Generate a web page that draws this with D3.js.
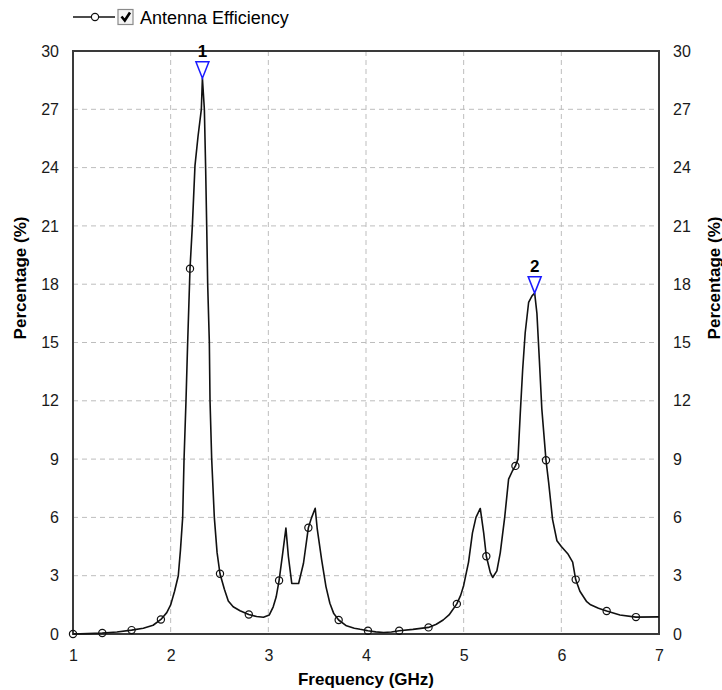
<!DOCTYPE html>
<html>
<head>
<meta charset="utf-8">
<script src="https://cdn.jsdelivr.net/npm/d3@7"></script>
<style>
  body { margin: 0; background: #fff; }
  svg { display: block; font-family: "Liberation Sans", Arial, sans-serif; }
</style>
</head>
<body>
<div id="chart"></div>
<script>
// efficiency curve (GHz, %)
const freqGHz = [1.00, 1.15, 1.30, 1.45, 1.60, 1.72, 1.82, 1.90, 1.96, 2.00, 2.04, 2.078, 2.10, 2.123, 2.137, 2.157, 2.174,
  2.198, 2.222, 2.249, 2.28, 2.314, 2.325, 2.345, 2.358, 2.369, 2.379, 2.396, 2.403, 2.42, 2.447, 2.475,
  2.505, 2.55, 2.59, 2.64, 2.71, 2.80, 2.88, 2.95, 3.01, 3.05, 3.08, 3.11, 3.147, 3.18, 3.205, 3.24, 3.31,
  3.36, 3.41, 3.44, 3.48, 3.50, 3.546, 3.59, 3.63, 3.67, 3.72, 3.80, 3.88, 3.94, 4.02, 4.10, 4.18, 4.26, 4.34, 4.48, 4.64,
  4.72, 4.79, 4.85, 4.93, 4.97, 5.00, 5.05, 5.09, 5.126, 5.17, 5.205, 5.232, 5.273, 5.297, 5.34, 5.375, 5.42,
  5.46, 5.50, 5.53, 5.556, 5.58, 5.604, 5.63, 5.665, 5.70, 5.727, 5.75, 5.775, 5.80, 5.843, 5.87, 5.91,
  5.955, 6.00, 6.07, 6.116, 6.147, 6.19, 6.26, 6.30, 6.38, 6.464, 6.60, 6.764, 7.00];
const efficiency = [0.00, 0.02, 0.05, 0.10, 0.20, 0.30, 0.45, 0.75, 1.1, 1.5, 2.2, 3.0, 4.3, 6.0, 9.0, 12.0, 15.0,
  18.8, 21.0, 24.1, 25.6, 27.0, 28.6, 27.0, 24.0, 21.0, 18.0, 15.0, 12.0, 9.0, 6.0, 4.2,
  3.1, 2.3, 1.7, 1.4, 1.2, 1.0, 0.9, 0.86, 0.98, 1.4, 1.9, 2.75, 4.15, 5.45, 4.0, 2.6, 2.6,
  3.64, 5.47, 5.95, 6.47, 5.44, 3.81, 2.44, 1.58, 1.05, 0.72, 0.42, 0.3, 0.24, 0.17, 0.11, 0.08, 0.1, 0.17, 0.24, 0.34,
  0.5, 0.72, 0.98, 1.55, 2.0, 2.5, 3.7, 5.2, 6.0, 6.46, 5.2, 4.0, 3.16, 2.91, 3.25, 4.19, 6.0,
  7.97, 8.4, 8.65, 9.0, 11.4, 13.6, 15.5, 17.06, 17.4, 17.54, 16.5, 14.1, 11.6, 8.94, 7.8, 5.9,
  4.8, 4.5, 4.1, 3.7, 2.8, 2.2, 1.66, 1.5, 1.32, 1.18, 0.98, 0.87, 0.88];

// circle markers on the trace
const markerFreq = [1.00, 1.30, 1.60, 1.90, 2.198, 2.505, 2.80, 3.11, 3.41, 3.72,
  4.02, 4.34, 4.64, 4.93, 5.232, 5.53, 5.843, 6.147, 6.464, 6.764];
const markerEff = [0.00, 0.05, 0.20, 0.75, 18.8, 3.1, 1.0, 2.75, 5.47, 0.72,
  0.17, 0.17, 0.34, 1.55, 4.0, 8.65, 8.94, 2.8, 1.18, 0.87];

// numbered peak markers
const peakLabels = ["1", "2"];
const peakFreq = [2.325, 5.727];
const peakEff = [28.6, 17.54];

const xTicks = [1, 2, 3, 4, 5, 6, 7];
const yTicks = [0, 3, 6, 9, 12, 15, 18, 21, 24, 27, 30];

const width = 722, height = 690;
const mLeft = 73, mRight = 659, mTop = 51, mBottom = 634;

const x = d3.scaleLinear().domain([1, 7]).range([mLeft, mRight]);
const y = d3.scaleLinear().domain([0, 30]).range([mBottom, mTop]);

const svg = d3.select("#chart").append("svg")
    .attr("width", width)
    .attr("height", height);

// grid
svg.append("g")
  .selectAll("line")
  .data(xTicks.slice(1, -1))
  .join("line")
    .attr("x1", d => x(d)).attr("x2", d => x(d))
    .attr("y1", mTop).attr("y2", mBottom)
    .attr("stroke", "#bdbdbd")
    .attr("stroke-dasharray", "5,4");

svg.append("g")
  .selectAll("line")
  .data(yTicks.slice(1, -1))
  .join("line")
    .attr("x1", mLeft).attr("x2", mRight)
    .attr("y1", d => y(d)).attr("y2", d => y(d))
    .attr("stroke", "#bdbdbd")
    .attr("stroke-dasharray", "5,4");

// axes (labels only, the frame is drawn as a rect)
const tickFont = g => g
    .call(g => g.select(".domain").remove())
    .call(g => g.selectAll(".tick line").remove())
    .call(g => g.selectAll("text")
        .attr("fill", "#1a1a1a")
        .attr("font-size", 16)
        .attr("font-family", "Liberation Sans, Arial, sans-serif"));

svg.append("g")
    .attr("transform", `translate(${mLeft},0)`)
    .call(d3.axisLeft(y).tickValues(yTicks).tickSize(0).tickPadding(14))
    .call(tickFont);

svg.append("g")
    .attr("transform", `translate(${mRight},0)`)
    .call(d3.axisRight(y).tickValues(yTicks).tickSize(0).tickPadding(14))
    .call(tickFont);

svg.append("g")
    .attr("transform", `translate(0,${mBottom})`)
    .call(d3.axisBottom(x).tickValues(xTicks).tickFormat(d3.format("d")).tickSize(0).tickPadding(16))
    .call(tickFont);

svg.append("rect")
    .attr("x", mLeft).attr("y", mTop)
    .attr("width", mRight - mLeft).attr("height", mBottom - mTop)
    .attr("fill", "none")
    .attr("stroke", "#3a3a3a")
    .attr("stroke-width", 2);

// axis titles
svg.append("text")
    .attr("x", (mLeft + mRight) / 2).attr("y", 685)
    .attr("text-anchor", "middle")
    .attr("font-weight", "bold").attr("font-size", 17)
    .text("Frequency (GHz)");

for (const tx of [20, 714]) {
  svg.append("text")
      .attr("transform", `translate(${tx},278) rotate(-90)`)
      .attr("text-anchor", "middle")
      .attr("dominant-baseline", "central")
      .attr("font-weight", "bold").attr("font-size", 17)
      .text("Percentage (%)");
}

// trace
const line = d3.line()
    .x(i => x(freqGHz[i]))
    .y(i => y(efficiency[i]));

svg.append("path")
    .attr("d", line(d3.range(freqGHz.length)))
    .attr("fill", "none")
    .attr("stroke", "#111")
    .attr("stroke-width", 1.6)
    .attr("stroke-linejoin", "round");

svg.append("g")
  .selectAll("circle")
  .data(d3.range(markerFreq.length))
  .join("circle")
    .attr("cx", i => x(markerFreq[i]))
    .attr("cy", i => y(markerEff[i]))
    .attr("r", 3.6)
    .attr("fill", "none")
    .attr("stroke", "#111")
    .attr("stroke-width", 1.2);

// peak markers
const peaks = svg.append("g")
  .selectAll("g")
  .data(d3.range(peakLabels.length))
  .join("g")
    .attr("transform", i => `translate(${x(peakFreq[i])},${y(peakEff[i])})`);

peaks.append("path")
    .attr("d", "M-6.5,-16.5L6.5,-16.5L0,0Z")
    .attr("fill", "#fff")
    .attr("stroke", "#1a1aff")
    .attr("stroke-width", 1.5);

peaks.append("text")
    .attr("y", -21)
    .attr("text-anchor", "middle")
    .attr("font-weight", "bold").attr("font-size", 17)
    .text(i => peakLabels[i]);

// legend
const legend = svg.append("g");
legend.append("line")
    .attr("x1", 73).attr("x2", 115).attr("y1", 17).attr("y2", 17)
    .attr("stroke", "#111").attr("stroke-width", 1.5);
legend.append("circle")
    .attr("cx", 95).attr("cy", 17).attr("r", 3.6)
    .attr("fill", "#fff").attr("stroke", "#111").attr("stroke-width", 1.2);
legend.append("rect")
    .attr("x", 118).attr("y", 9.5).attr("width", 15).attr("height", 15)
    .attr("fill", "#f4f4f4").attr("stroke", "#8a8a8a").attr("stroke-width", 1.2);
legend.append("path")
    .attr("d", "M121.5,16.5L124.8,20.5L130,12.5")
    .attr("fill", "none").attr("stroke", "#000").attr("stroke-width", 2.6);
legend.append("text")
    .attr("x", 140).attr("y", 24)
    .attr("font-size", 18)
    .text("Antenna Efficiency");
</script>
</body>
</html>
